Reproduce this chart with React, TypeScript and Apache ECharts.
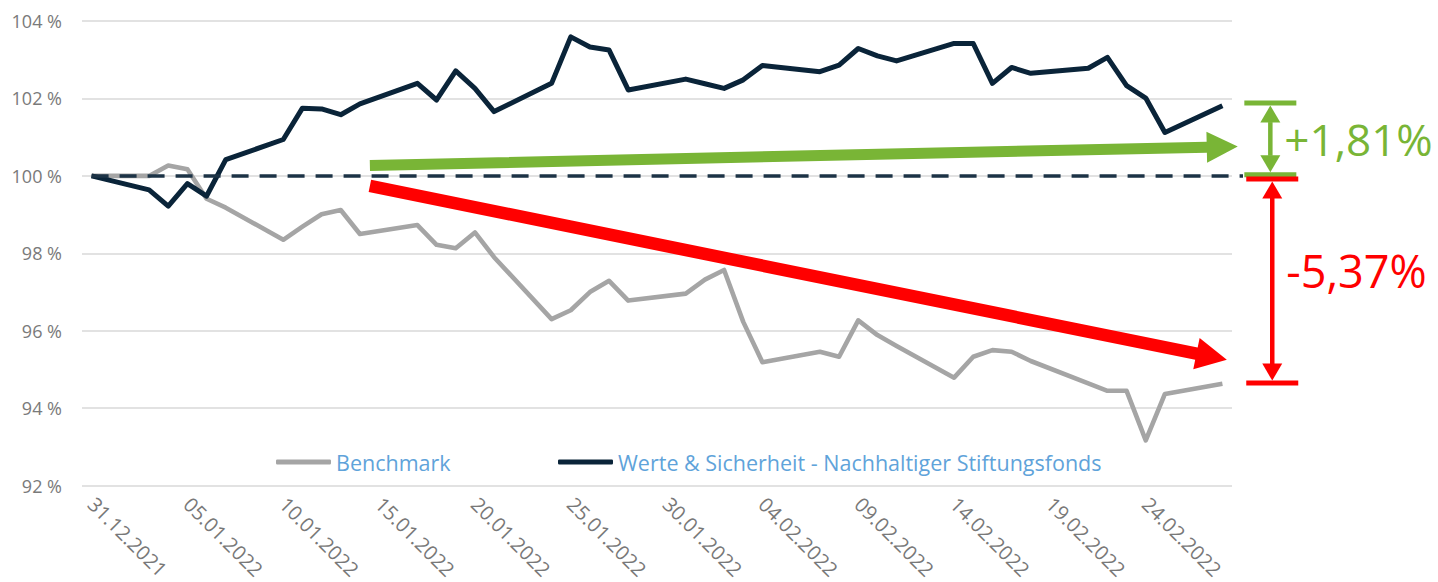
import React, { useEffect, useRef } from "react";
import * as echarts from "echarts";

const FONT = '"Open Sans", "Noto Sans", sans-serif';

// Trading dates (weekdays) and index values in %
const tradingDates = [
  "31.12.2021", "03.01.2022", "04.01.2022", "05.01.2022", "06.01.2022", "07.01.2022",
  "10.01.2022", "11.01.2022", "12.01.2022", "13.01.2022", "14.01.2022",
  "17.01.2022", "18.01.2022", "19.01.2022", "20.01.2022", "21.01.2022",
  "24.01.2022", "25.01.2022", "26.01.2022", "27.01.2022", "28.01.2022",
  "31.01.2022", "01.02.2022", "02.02.2022", "03.02.2022", "04.02.2022",
  "07.02.2022", "08.02.2022", "09.02.2022", "10.02.2022", "11.02.2022",
  "14.02.2022", "15.02.2022", "16.02.2022", "17.02.2022", "18.02.2022",
  "21.02.2022", "22.02.2022", "23.02.2022", "24.02.2022", "25.02.2022",
  "28.02.2022",
];

const fundValues = [
  100.0, 99.64, 99.22, 99.8, 99.48, 100.42,
  100.94, 101.75, 101.73, 101.58, 101.86,
  102.39, 101.96, 102.71, 102.26, 101.66,
  102.39, 103.59, 103.33, 103.25, 102.22,
  102.5, 102.38, 102.26, 102.48, 102.85,
  102.69, 102.86, 103.29, 103.1, 102.97,
  103.42, 103.42, 102.39, 102.8, 102.65,
  102.78, 103.06, 102.33, 102.01, 101.12,
  101.81,
];

const benchmarkValues = [
  100.0, 100.0, 100.27, 100.17, 99.41, 99.18,
  98.35, 98.69, 99.01, 99.12, 98.5,
  98.73, 98.22, 98.13, 98.54, 97.9,
  96.3, 96.53, 97.0, 97.29, 96.78,
  96.96, 97.32, 97.57, 96.23, 95.19,
  95.46, 95.33, 96.27, 95.89, 95.61,
  94.79, 95.33, 95.5, 95.46, 95.22,
  94.64, 94.45, 94.45, 93.17, 94.37,
  94.63,
];

const seriesNames = ["Benchmark", "Werte & Sicherheit - Nachhaltiger Stiftungsfonds"];
const yMin = 92;
const yMax = 104;
const yStep = 2;
const labelEvery = 5;
const baseline = 100;

// Annotation anchors in data space: [day index, value]
const gainArrow = { from: [14.52, 100.27], to: [59.8, 100.76] };
const lossArrow = { from: [14.52, 99.74], to: [59.23, 95.25] };
const gainBracket = { x: 61.5, from: 100.03, to: 101.88, label: "+1,81%" };
const lossBracket = { x: 61.6, from: 99.92, to: 94.65, label: "-5,37%" };

function buildCalendar(first: string, last: string): string[] {
  const parse = (s: string) => {
    const [d, m, y] = s.split(".").map(Number);
    return Date.UTC(y, m - 1, d);
  };
  const out: string[] = [];
  const end = parse(last);
  for (let t = parse(first); t <= end; t += 86400000) {
    const dt = new Date(t);
    const dd = String(dt.getUTCDate()).padStart(2, "0");
    const mm = String(dt.getUTCMonth() + 1).padStart(2, "0");
    out.push(`${dd}.${mm}.${dt.getUTCFullYear()}`);
  }
  return out;
}

function arrowPoints(p0: number[], p1: number[], w: number, L: number, H: number) {
  const dx = p1[0] - p0[0];
  const dy = p1[1] - p0[1];
  const len = Math.hypot(dx, dy);
  const ux = dx / len, uy = dy / len;
  const nx = -uy, ny = ux;
  const bx = p1[0] - ux * L, by = p1[1] - uy * L;
  return [
    [p0[0] + nx * w / 2, p0[1] + ny * w / 2],
    [bx + nx * w / 2, by + ny * w / 2],
    [bx + nx * H / 2, by + ny * H / 2],
    [p1[0], p1[1]],
    [bx - nx * H / 2, by - ny * H / 2],
    [bx - nx * w / 2, by - ny * w / 2],
    [p0[0] - nx * w / 2, p0[1] - ny * w / 2],
  ];
}

export default function App() {
  const ref = useRef<HTMLDivElement>(null);

  useEffect(() => {
    if (!ref.current) return;
    const chart = echarts.init(ref.current, undefined, { renderer: "svg" });
    const calendar = buildCalendar(tradingDates[0], tradingDates[tradingDates.length - 1]);
    const toCal = (vals: number[]) => {
      const map: Record<string, number> = {};
      tradingDates.forEach((d, i) => (map[d] = vals[i]));
      return calendar.map((d) => (d in map ? map[d] : null));
    };

    const GREEN = "#79b536";
    const RED = "#ff0000";
    const NAVY = "#0a2439";
    const LEGEND_TEXT = { color: "#5fa3da", fontSize: 21.5, fontFamily: FONT };

    chart.setOption({
      animation: false,
      grid: { left: 82, right: 206, top: 21, bottom: 93, containLabel: false },
      legend: [
        {
          data: [seriesNames[0]],
          left: 276,
          top: 451,
          padding: 0,
          icon: "roundRect",
          itemWidth: 55,
          itemHeight: 5,
          textStyle: LEGEND_TEXT,
        },
        {
          data: [seriesNames[1]],
          left: 558,
          top: 451,
          padding: 0,
          icon: "roundRect",
          itemWidth: 55,
          itemHeight: 5,
          textStyle: LEGEND_TEXT,
        },
      ],
      xAxis: {
        type: "category",
        data: calendar,
        boundaryGap: true,
        axisLine: { show: false },
        axisTick: { show: false },
        splitLine: { show: false },
        axisLabel: {
          interval: labelEvery - 1,
          rotate: -45,
          color: "#787878",
          fontSize: 20,
          fontFamily: FONT,
          margin: 15,
        },
      },
      yAxis: {
        type: "value",
        min: yMin,
        max: yMax,
        interval: yStep,
        axisLine: { show: false },
        axisTick: { show: false },
        splitLine: { lineStyle: { color: "#d9d9d9", width: 1.5 } },
        axisLabel: {
          formatter: (v: number) => `${v} %`,
          color: "#7a7a7a",
          fontSize: 18,
          fontFamily: FONT,
          margin: 20,
        },
      },
      series: [
        {
          name: seriesNames[0],
          type: "line",
          data: toCal(benchmarkValues),
          connectNulls: true,
          showSymbol: false,
          symbol: "none",
          lineStyle: { color: "#a5a5a5", width: 4.6, join: "round" },
          itemStyle: { color: "#a5a5a5" },
          z: 2,
        },
        {
          name: seriesNames[1],
          type: "line",
          data: toCal(fundValues),
          connectNulls: true,
          showSymbol: false,
          symbol: "none",
          lineStyle: { color: NAVY, width: 5, join: "round" },
          itemStyle: { color: NAVY },
          z: 3,
        },
      ],
    });

    const n = calendar.length - 1;
    const P = (i: number, v: number): number[] => {
      const a = chart.convertToPixel({ gridIndex: 0 }, [0, v]) as number[];
      const b = chart.convertToPixel({ gridIndex: 0 }, [n, v]) as number[];
      return [a[0] + ((b[0] - a[0]) * i) / n, a[1]];
    };

    const gA = arrowPoints(P(gainArrow.from[0], gainArrow.from[1]), P(gainArrow.to[0], gainArrow.to[1]), 11, 31, 31);
    const rA = arrowPoints(P(lossArrow.from[0], lossArrow.from[1]), P(lossArrow.to[0], lossArrow.to[1]), 12.5, 31, 32);

    const bracket = (
      b: { x: number; from: number; to: number; label: string },
      color: string,
      labelDy: number,
      size: number
    ) => {
      const p0 = P(b.x, b.from);
      const p1 = P(b.x, b.to);
      const x = p0[0];
      const dir = p1[1] < p0[1] ? -1 : 1; // towards p1
      const hh = 17, hw = 10, bar = 26, barT = 5;
      const els: any[] = [
        { type: "rect", z: 100, shape: { x: x - bar, y: p0[1] - barT / 2, width: bar * 2, height: barT }, style: { fill: color } },
        { type: "rect", z: 100, shape: { x: x - bar, y: p1[1] - barT / 2, width: bar * 2, height: barT }, style: { fill: color } },
        { type: "line", z: 100, shape: { x1: x, y1: p0[1] + dir * (hh + 2), x2: x, y2: p1[1] - dir * (hh + 2) }, style: { stroke: color, lineWidth: 4.5 } },
        {
          type: "polygon", z: 100,
          shape: { points: [[x, p0[1] + dir * 2.5], [x - hw, p0[1] + dir * (hh + 2.5)], [x + hw, p0[1] + dir * (hh + 2.5)]] },
          style: { fill: color },
        },
        {
          type: "polygon", z: 100,
          shape: { points: [[x, p1[1] - dir * 2.5], [x - hw, p1[1] - dir * (hh + 2.5)], [x + hw, p1[1] - dir * (hh + 2.5)]] },
          style: { fill: color },
        },
        {
          type: "text", z: 100,
          style: {
            text: b.label,
            x: x + 14,
            y: (p0[1] + p1[1]) / 2 + labelDy,
            fill: color,
            fontSize: size,
            fontFamily: FONT,
            align: "left",
            verticalAlign: "middle",
            textAlign: "left",
            textVerticalAlign: "middle",
          },
        },
      ];
      return els;
    };

    const y100 = P(0, baseline)[1];
    const xStart = P(0, baseline)[0];

    chart.setOption({
      graphic: [
        {
          type: "line",
          z: 90,
          shape: { x1: xStart, y1: y100, x2: 1243, y2: y100 },
          style: { stroke: "#1c3346", lineWidth: 3.5, lineDash: [17, 11] },
        },
        { type: "polygon", z: 100, shape: { points: gA }, style: { fill: GREEN } },
        { type: "polygon", z: 100, shape: { points: rA }, style: { fill: RED } },
        ...bracket(gainBracket, GREEN, 0, 44),
        ...bracket(lossBracket, RED, -11, 45),
      ],
    });

    return () => chart.dispose();
  }, []);

  return (
    <div
      ref={ref}
      style={{ position: "absolute", left: 0, top: 0, width: 1438, height: 582 }}
    />
  );
}
